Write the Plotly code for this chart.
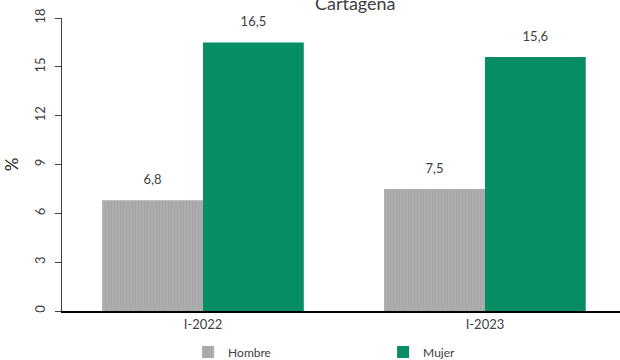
import plotly.graph_objects as go

categories = ["I-2022", "I-2023"]
hombre = [6.8, 7.5]
mujer = [16.5, 15.6]
y_ticks = [0, 3, 6, 9, 12, 15, 18]

def fmt(v):
    return f"{v:.1f}".replace(".", ",")

FONT = "Lato, Open Sans, sans-serif"
LABEL_TPL = "<span style='font-size:13px'>%{text}</span><br><span style='font-size:1px'> </span>"

fig = go.Figure()
fig.add_trace(go.Bar(
    name="Hombre", x=categories, y=hombre,
    text=[fmt(v) for v in hombre], textposition="outside",
    texttemplate=LABEL_TPL,
    textfont=dict(size=10, color="#404040", family=FONT),
    marker=dict(color="#A8A8A8", line=dict(width=0),
                pattern=dict(shape="|", fgcolor="#9C9C9C", bgcolor="#AEAEAE", size=3, solidity=0.4)),
    cliponaxis=False,
))
fig.add_trace(go.Bar(
    name="Mujer", x=categories, y=mujer,
    text=[fmt(v) for v in mujer], textposition="outside",
    texttemplate=LABEL_TPL,
    textfont=dict(size=10, color="#404040", family=FONT),
    marker=dict(color="#078D64", line=dict(width=0)),
    cliponaxis=False,
))

fig.update_layout(
    width=620, height=360,
    margin=dict(l=62, r=0, t=18, b=49),
    paper_bgcolor="white", plot_bgcolor="white",
    barmode="group", bargap=0.285, bargroupgap=0,
    font=dict(family=FONT, color="#404040"),
    title=dict(text="Cartagena", x=0.573, xanchor="center", y=0.99, yanchor="middle",
               font=dict(size=18, color="#404040", family=FONT)),
    showlegend=True,
    legend=dict(orientation="h", x=0.226, xanchor="left",
                yref="container", y=0.022, yanchor="middle",
                entrywidth=150, entrywidthmode="pixels",
                font=dict(size=12, color="#404040", family=FONT),
                itemwidth=30, traceorder="normal"),
    xaxis=dict(range=[-0.5, 1.479], showline=True, linecolor="#000000", linewidth=2,
               ticks="", showgrid=False, automargin=False,
               tickfont=dict(size=13, color="#404040", family=FONT)),
    yaxis=dict(range=[0, 18], tickvals=y_ticks, ticktext=[str(t) for t in y_ticks],
               showline=True, linecolor="#404040", linewidth=1, ticks="outside", ticklen=6,
               tickcolor="#404040", showgrid=False, zeroline=False, tickangle=-90,
               automargin=False, ticklabelstandoff=5,
               tickfont=dict(size=13, color="#404040", family=FONT),
               title=dict(text="%", font=dict(size=17, color="#222222", family=FONT), standoff=8)),
)

fig.write_html("out.html", config={"displayModeBar": False},
               post_script="document.body.style.margin='0';")
